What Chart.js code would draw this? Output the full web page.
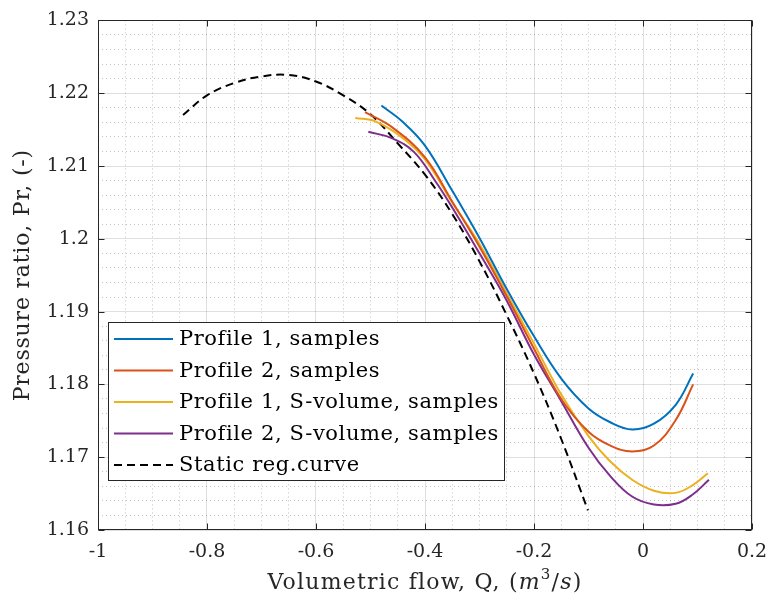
<!DOCTYPE html>
<html>
<head>
<meta charset="utf-8">
<script src="https://cdn.jsdelivr.net/npm/chart.js@4.4.1/dist/chart.umd.min.js"></script>
<style>
  html, body { margin: 0; padding: 0; background: #fff; }
</style>
</head>
<body>
<canvas id="grafica" width="769" height="603"></canvas>
<script>
// Profile 1, samples
const p1X = [-0.48, -0.44, -0.40, -0.35, -0.30, -0.25, -0.20, -0.15, -0.10, -0.06, -0.02, 0.02, 0.06, 0.092];
const p1Y = [1.2183, 1.2160, 1.2128, 1.2066, 1.2001, 1.1931, 1.1866, 1.1808, 1.1767, 1.1748, 1.1738, 1.1746, 1.1772, 1.1815];

// Profile 2, samples
const p2X = [-0.51, -0.46, -0.40, -0.35, -0.30, -0.25, -0.20, -0.15, -0.10, -0.06, -0.02, 0.02, 0.06, 0.092];
const p2Y = [1.2174, 1.2153, 1.2112, 1.2051, 1.1989, 1.1921, 1.1849, 1.1780, 1.1735, 1.1716, 1.1708, 1.1716, 1.1751, 1.1800];

// Profile 1, S-volume, samples
const s1X = [-0.528, -0.49, -0.44, -0.40, -0.35, -0.30, -0.25, -0.20, -0.15, -0.10, -0.06, -0.02, 0.02, 0.06, 0.09, 0.119];
const s1Y = [1.2166, 1.2161, 1.2138, 1.2109, 1.2050, 1.1993, 1.1925, 1.1856, 1.1786, 1.1729, 1.1694, 1.1669, 1.1654, 1.1651, 1.1661, 1.1678];

// Profile 2, S-volume, samples
const s2X = [-0.504, -0.46, -0.42, -0.38, -0.35, -0.30, -0.25, -0.20, -0.15, -0.10, -0.06, -0.02, 0.02, 0.06, 0.09, 0.121];
const s2Y = [1.2147, 1.2138, 1.2119, 1.2078, 1.2043, 1.1980, 1.1915, 1.1841, 1.1777, 1.1713, 1.1674, 1.1646, 1.1635, 1.1636, 1.1648, 1.1669];

// Static reg.curve
const stX = [-0.844, -0.80, -0.75, -0.70, -0.65, -0.60, -0.55, -0.50, -0.45, -0.40, -0.35, -0.30, -0.25, -0.20, -0.15, -0.101];
const stY = [1.2170, 1.2197, 1.2214, 1.2223, 1.2225, 1.2216, 1.2197, 1.2171, 1.2131, 1.2088, 1.2034, 1.1969, 1.1895, 1.1815, 1.1725, 1.1627];

const xTicks = [-1, -0.8, -0.6, -0.4, -0.2, 0, 0.2];
const yTicks = [1.16, 1.17, 1.18, 1.19, 1.2, 1.21, 1.22, 1.23];

const serif = '"DejaVu Serif", serif';
const ejeColor = '#262626';

function puntos(xs, ys) {
  return xs.map((x, i) => ({ x: x, y: ys[i] }));
}

function esMayor(v, lista) {
  return lista.some(t => Math.abs(t - v) < 1e-7);
}

function serie(label, xs, ys, color, dash) {
  return {
    label: label,
    data: puntos(xs, ys),
    borderColor: color,
    backgroundColor: color,
    borderWidth: 2,
    borderDash: dash || [],
    pointRadius: 0,
    tension: 0.4,
    fill: false
  };
}

// caja, marcas de eje, titulos y leyenda estilo matlab
const ejes = {
  id: 'ejes',
  afterDatasetsDraw(chart) {
    const { ctx, chartArea: ca } = chart;
    const sx = chart.scales.x, sy = chart.scales.y;
    ctx.save();
    ctx.strokeStyle = ejeColor;
    ctx.lineWidth = 1;
    const l = Math.round(ca.left) + 0.5, r = Math.round(ca.right) - 0.5;
    const t = Math.round(ca.top) + 0.5, b = Math.round(ca.bottom) - 0.5;
    ctx.strokeRect(l, t, r - l, b - t);
    ctx.beginPath();
    xTicks.forEach(v => {
      const px = Math.round(sx.getPixelForValue(v)) + 0.5;
      ctx.moveTo(px, b); ctx.lineTo(px, b - 6);
      ctx.moveTo(px, t); ctx.lineTo(px, t + 6);
    });
    yTicks.forEach(v => {
      const py = Math.round(sy.getPixelForValue(v)) + 0.5;
      ctx.moveTo(l, py); ctx.lineTo(l + 6, py);
      ctx.moveTo(r, py); ctx.lineTo(r - 6, py);
    });
    ctx.stroke();
    ctx.restore();
  },
  afterDraw(chart) {
    const { ctx, chartArea: ca } = chart;
    ctx.save();
    ctx.fillStyle = ejeColor;
    ctx.textBaseline = 'alphabetic';
    ctx.letterSpacing = '1.2px';

    // titulo eje x con partes en cursiva
    const partes = [
      { t: 'Volumetric flow, Q, (', f: '22px ' + serif, dy: 0 },
      { t: 'm', f: 'italic 22px ' + serif, dy: 0 },
      { t: '3', f: '15px ' + serif, dy: -10 },
      { t: '/', f: '22px ' + serif, dy: 0 },
      { t: 's', f: 'italic 22px ' + serif, dy: 0 },
      { t: ')', f: '22px ' + serif, dy: 0 }
    ];
    let total = 0;
    partes.forEach(p => { ctx.font = p.f; p.w = ctx.measureText(p.t).width; total += p.w; });
    let x = (ca.left + ca.right) / 2 - total / 2;
    const base = 589;
    ctx.textAlign = 'left';
    partes.forEach(p => {
      ctx.font = p.f;
      ctx.fillText(p.t, x, base + p.dy);
      x += p.w;
    });

    // titulo eje y
    ctx.letterSpacing = '0.8px';
    ctx.translate(29, (ca.top + ca.bottom) / 2);
    ctx.rotate(-Math.PI / 2);
    ctx.font = '22px ' + serif;
    ctx.textAlign = 'center';
    ctx.fillText('Pressure ratio, Pr, (-)', 0, 0);
    ctx.restore();

    // leyenda
    const x0 = Math.round(ca.left) + 10, y0 = Math.round(ca.top) + 302;
    const w = 396, h = 158;
    ctx.save();
    ctx.fillStyle = '#fff';
    ctx.fillRect(x0, y0, w, h);
    ctx.strokeStyle = ejeColor;
    ctx.lineWidth = 1;
    ctx.strokeRect(x0 + 0.5, y0 + 0.5, w, h);
    ctx.font = '21px ' + serif;
    ctx.letterSpacing = '0.6px';
    ctx.textBaseline = 'middle';
    ctx.textAlign = 'left';
    chart.data.datasets.forEach((ds, i) => {
      const y = y0 + 17 + i * 31.5;
      ctx.beginPath();
      ctx.setLineDash(ds.borderDash);
      ctx.strokeStyle = ds.borderColor;
      ctx.lineWidth = 2;
      ctx.moveTo(x0 + 6, y);
      ctx.lineTo(x0 + 65, y);
      ctx.stroke();
      ctx.fillStyle = '#000';
      ctx.fillText(ds.label, x0 + 71, y + 1);
    });
    ctx.restore();
  }
};

const ctx = document.getElementById('grafica').getContext('2d');

const grafica = new Chart(ctx, {
  type: 'line',
  data: {
    datasets: [
      serie('Profile 1, samples', p1X, p1Y, '#0072BD'),
      serie('Profile 2, samples', p2X, p2Y, '#D95319'),
      serie('Profile 1, S-volume, samples', s1X, s1Y, '#EDB120'),
      serie('Profile 2, S-volume, samples', s2X, s2Y, '#7E2F8E'),
      serie('Static reg.curve', stX, stY, '#000000', [8, 5])
    ]
  },
  options: {
    responsive: false,
    animation: false,
    layout: { padding: { top: 18, right: 17, left: 0, bottom: 0 } },
    plugins: {
      legend: { display: false },
      tooltip: { enabled: false }
    },
    scales: {
      x: {
        type: 'linear',
        min: -1,
        max: 0.2,
        afterFit: s => { s.height = 73; s.paddingRight = 0; s.paddingLeft = 0; },
        ticks: {
          stepSize: 0.05,
          autoSkip: false,
          maxRotation: 0,
          padding: 11,
          color: ejeColor,
          font: { family: serif, size: 19 },
          callback: v => esMayor(v, xTicks) ? String(Math.round(v * 10) / 10) : ''
        },
        grid: {
          drawTicks: false,
          lineWidth: 1,
          color: c => (c.tick && esMayor(c.tick.value, xTicks)) ? 'rgba(38,38,38,0.15)' : 'rgba(38,38,38,0.28)'
        },
        border: {
          display: false,
          dash: c => (c.tick && !esMayor(c.tick.value, xTicks)) ? [1, 3] : []
        }
      },
      y: {
        type: 'linear',
        min: 1.16,
        max: 1.23,
        afterFit: s => { s.width = 98; },
        ticks: {
          stepSize: 0.002,
          autoSkip: false,
          padding: 9,
          color: ejeColor,
          font: { family: serif, size: 19 },
          callback: v => esMayor(v, yTicks) ? String(Math.round(v * 100) / 100) : ''
        },
        grid: {
          drawTicks: false,
          lineWidth: 1,
          color: c => (c.tick && esMayor(c.tick.value, yTicks)) ? 'rgba(38,38,38,0.15)' : 'rgba(38,38,38,0.28)'
        },
        border: {
          display: false,
          dash: c => (c.tick && !esMayor(c.tick.value, yTicks)) ? [1, 3] : []
        }
      }
    }
  },
  plugins: [ejes]
});
</script>
</body>
</html>
